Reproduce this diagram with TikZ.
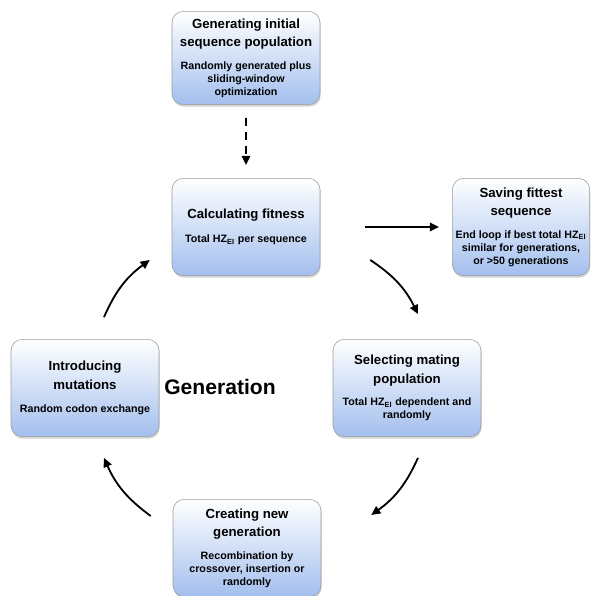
\documentclass[tikz,border=0pt]{standalone}
\usepackage{fontspec}
\setmainfont{Liberation Sans}
\usepackage{tikz}
\usetikzlibrary{positioning, arrows.meta, calc, shadows}
\definecolor{boxGray}{HTML}{9C9C9C}
\definecolor{boxBlue}{HTML}{A3BFEE}
\newcommand{\boxtitle}[1]{{\fontsize{9.4}{13.5}\selectfont #1}}

\begin{document}
\begin{tikzpicture}[
  box/.style={draw=boxGray, rounded corners=8pt, top color=white, bottom color=boxBlue,
              minimum width=3.7cm, minimum height=2.43cm, inner sep=2pt,
              font=\fontsize{7.6}{9.2}\selectfont\bfseries, align=center,
              drop shadow={opacity=0.35, shadow xshift=0.5pt, shadow yshift=-1.5pt}},
  flow/.style={black, line width=1.3pt, -{Triangle[length=6.5pt, width=6pt]}}
]
\useasboundingbox (0,0) rectangle (15.025,-14.9);
\node[box, minimum height=2.33cm] (init) at (6.15,-1.45)
  {\boxtitle{Generating initial}\\[4pt]\boxtitle{sequence population}\\[7pt]
   Randomly generated plus\\sliding-window\\optimization};
\node[box] (fit) at (6.15,-5.675)
  {\boxtitle{Calculating fitness}\\[8pt]Total HZ\textsubscript{EI} per sequence};
\node[box, minimum width=3.43cm] (save) at (13.025,-5.675)
  {\boxtitle{Saving fittest}\\[4pt]\boxtitle{sequence}\\[7pt]
   End loop if best total HZ\textsubscript{EI}\\similar for generations,\\or >50 generations};
\node[box] (mut) at (2.125,-9.7)
  {\boxtitle{Introducing}\\[4pt]\boxtitle{mutations}\\[7pt]Random codon exchange};
\node[box] (sel) at (10.175,-9.7)
  {\boxtitle{Selecting mating}\\[4pt]\boxtitle{population}\\[7pt]
   Total HZ\textsubscript{EI} dependent and\\randomly};
\node[box] (new) at (6.175,-13.7)
  {\boxtitle{Creating new}\\[4pt]\boxtitle{generation}\\[7pt]
   Recombination by\\crossover, insertion or\\randomly};
\node[font=\fontsize{15}{18}\selectfont\bfseries] (gen) at (5.5,-9.675) {Generation};

\draw[flow, dash pattern=on 6pt off 4pt] ([yshift=-0.325cm]init.south) -- ([yshift=0.325cm]fit.north);
\draw[flow] ([xshift=1.125cm]fit.east) -- ([xshift=-0.325cm]save.west);
\draw[flow] ($(fit.east)+(1.25,-0.825)$) to[bend left=15] ($(sel.north)+(0.275,0.625)$);
\draw[flow] ($(sel.south)+(0.275,-0.525)$) to[bend left=15] ($(new.east)+(1.25,0.825)$);
\draw[flow] ($(new.west)+(-0.55,0.8)$) to[bend left=15] ($(mut.south)+(0.475,-0.525)$);
\draw[flow] ($(mut.north)+(0.475,0.55)$) to[bend left=15] ($(fit.west)+(-0.55,-0.825)$);
\end{tikzpicture}
\end{document}
